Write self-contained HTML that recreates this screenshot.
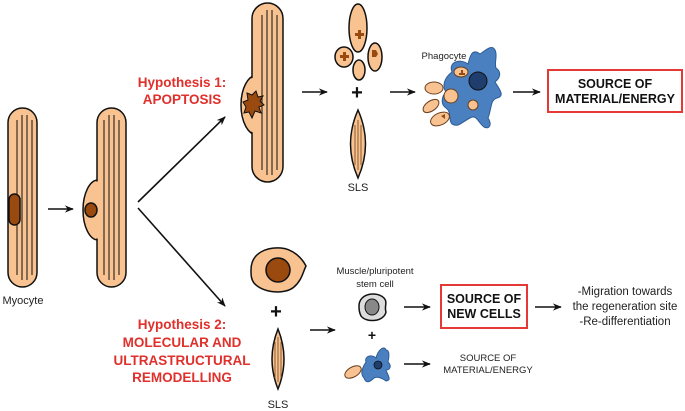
<!DOCTYPE html>
<html><head><meta charset="utf-8"><style>html,body{margin:0;padding:0;background:#fff}svg{display:block}</style></head>
<body>
<svg width="685" height="411" viewBox="0 0 685 411" xmlns="http://www.w3.org/2000/svg" font-family="Liberation Sans, sans-serif">
<defs>
<marker id="ah" viewBox="0 0 10 10" refX="9" refY="5" markerWidth="10" markerHeight="9" orient="auto" markerUnits="userSpaceOnUse">
<path d="M0,1 L10,5 L0,9 L3,5 Z" fill="#111"/></marker>
</defs>
<g stroke="#111" stroke-width="1.5" fill="#f8c391">
<!-- Myocyte 1 -->
<rect x="8" y="108" width="29" height="179" rx="14.5"/>
<g stroke-width="1"><line x1="17" y1="120" x2="17" y2="275"/><line x1="22" y1="115" x2="22" y2="280"/><line x1="27" y1="115" x2="27" y2="280"/><line x1="32" y1="120" x2="32" y2="275"/></g>
<rect x="9" y="194" width="11" height="31" rx="5.5" fill="#9a4a0f"/>
<!-- Myocyte 2 -->
<ellipse cx="98" cy="210" rx="15" ry="30"/>
<rect x="97" y="108" width="29" height="179" rx="14.5"/>
<ellipse cx="98" cy="210" rx="13.8" ry="28.6" stroke="none"/>
<g stroke-width="1"><line x1="104" y1="120" x2="104" y2="275"/><line x1="109" y1="115" x2="109" y2="280"/><line x1="114" y1="115" x2="114" y2="280"/><line x1="119" y1="120" x2="119" y2="275"/></g>
<ellipse cx="91" cy="210" rx="6" ry="7" fill="#9a4a0f"/>
<!-- Cell 3 -->
<ellipse cx="257" cy="105" rx="16" ry="30"/>
<rect x="252" y="3" width="31" height="179" rx="15.5"/>
<ellipse cx="257" cy="105" rx="14.8" ry="28.6" stroke="none"/>
<g stroke-width="1"><line x1="262" y1="15" x2="262" y2="170"/><line x1="267" y1="10" x2="267" y2="175"/><line x1="272" y1="10" x2="272" y2="175"/><line x1="277" y1="15" x2="277" y2="170"/></g>
<path d="M247,93 L252,95 L256,91 L258,97 L263,96 L260,101 L264,105 L259,107 L261,113 L255,111 L252,118 L249,112 L244,113 L246,107 L243,102 L248,100 Z" fill="#9a4a0f" stroke-width="1"/>
<!-- fragments -->
<ellipse cx="358" cy="28" rx="9" ry="24"/>
<ellipse cx="344" cy="57" rx="9" ry="10"/>
<ellipse cx="375" cy="57" rx="7" ry="14"/>
<ellipse cx="359" cy="70" rx="6" ry="10"/>
<!-- SLS top -->
<path d="M358,110 Q373,144 358,178 Q343,144 358,110 Z"/>
<g stroke="#8a5a30" stroke-width="1"><line x1="355" y1="125" x2="355" y2="165"/><line x1="358" y1="120" x2="358" y2="170"/><line x1="361" y1="125" x2="361" y2="165"/></g>
<!-- bottom cell -->
<path d="M251,270 C251,252 268,247 281,248 C293,249 302,258 306,266 C303,272 302,280 294,287 C285,295 262,293 254,283 C251,279 251,275 251,270 Z"/>
<circle cx="278" cy="270" r="12" fill="#9a4a0f"/>
<!-- SLS bottom -->
<path d="M278,329 Q290,359 278,389 Q266,359 278,329 Z"/>
<g stroke="#8a5a30" stroke-width="1"><line x1="275" y1="342" x2="275" y2="378"/><line x1="278" y1="337" x2="278" y2="382"/><line x1="281" y1="342" x2="281" y2="378"/></g>
</g>
<g fill="#9a4a0f"><path d="M355,33 h3 v-3 h3 v3 h3 v3 h-3 v3 h-3 v-3 h-3z"/><path d="M340,55 h3 v-3 h3 v3 h3 v3 h-3 v3 h-3 v-3 h-3z"/><path d="M372,50 h4 l2,4 l-2,3 h-4z"/></g>
<!-- phagocyte -->
<path d="M452,72 C448,62 460,58 468,64 C470,56 472,48 480,54 C486,50 492,44 495,50 C498,56 494,62 496,68 C502,72 500,78 495,82 C500,90 505,96 497,98 C490,100 492,108 488,118 C492,124 490,130 484,127 C478,122 476,114 470,118 C462,122 458,128 452,124 C448,120 452,112 446,108 C440,104 442,96 446,92 C442,86 444,78 452,72 Z" fill="#4a7fc0" stroke="#2d5c95" stroke-width="1"/>
<circle cx="478" cy="81" r="9" fill="#1f3e6e" stroke="#111" stroke-width="1"/>
<g fill="#f8c391" stroke="#6a4020" stroke-width="1">
<ellipse cx="461" cy="72" rx="7" ry="5"/><ellipse cx="434" cy="88" rx="9" ry="6"/><ellipse cx="451" cy="96" rx="7" ry="7"/><ellipse cx="473" cy="105" rx="5" ry="5"/>
<ellipse cx="431" cy="106" rx="9" ry="5" transform="rotate(-35 431 106)"/><ellipse cx="440" cy="119" rx="10" ry="6" transform="rotate(-25 440 119)"/>
</g>
<path d="M459,73 h2 v-3 h2 v3 h2 v2 h-6z M441,116 l4,-2 v5z" fill="#9a4a0f"/>
<!-- stem cell -->
<path d="M359,305 C360,293 377,291 384,298 C388,302 384,307 386,312 C384,322 366,323 361,316 C359,312 359,309 359,305 Z" fill="#ddd" stroke="#111" stroke-width="1.5"/>
<ellipse cx="372" cy="307" rx="7" ry="8" fill="#888" stroke="#111" stroke-width="1"/>
<!-- small phagocyte -->
<path d="M366,362 C364,356 372,354 376,358 C378,350 384,345 386,350 C390,350 389,358 388,362 C392,366 390,370 386,370 C388,376 392,380 386,381 C382,378 378,376 374,378 C370,382 366,384 364,378 C360,374 362,368 366,362 Z" fill="#4a7fc0" stroke="#2d5c95" stroke-width="1"/>
<circle cx="378" cy="365" r="4" fill="#1f3e6e" stroke="#111" stroke-width="0.8"/>
<ellipse cx="353" cy="372" rx="9" ry="5" transform="rotate(-30 353 372)" fill="#f8c391" stroke="#6a4020" stroke-width="1"/>
<!-- arrows -->
<g stroke="#111" stroke-width="1.6" marker-end="url(#ah)">
<line x1="48" y1="209" x2="73" y2="209"/>
<line x1="138" y1="202" x2="225" y2="117"/>
<line x1="138" y1="208" x2="225" y2="306"/>
<line x1="302" y1="92" x2="327" y2="92"/>
<line x1="390" y1="92" x2="415" y2="92"/>
<line x1="513" y1="92" x2="540" y2="92"/>
<line x1="310" y1="330" x2="335" y2="330"/>
<line x1="404" y1="307" x2="430" y2="307"/>
<line x1="535" y1="307" x2="561" y2="307"/>
<line x1="404" y1="364" x2="430" y2="364"/>
</g>
<!-- plus signs -->
<g fill="#111" font-weight="bold" text-anchor="middle">
<text x="357" y="99" font-size="20">+</text>
<text x="276" y="318" font-size="20">+</text>
<text x="372" y="340" font-size="14">+</text>
</g>
<!-- boxes -->
<rect x="548" y="70" width="134" height="42" fill="#fff" stroke="#e53935" stroke-width="2"/>
<rect x="441" y="285" width="86" height="43" fill="#fff" stroke="#e53935" stroke-width="2"/>
<g font-weight="bold" font-size="12.5" fill="#111" text-anchor="middle">
<text x="615" y="88">SOURCE OF</text><text x="615" y="103">MATERIAL/ENERGY</text>
<text x="484" y="303">SOURCE OF</text><text x="484" y="318">NEW CELLS</text>
</g>
<g font-weight="bold" font-size="13.5" fill="#e0302c" text-anchor="middle">
<text x="182" y="87">Hypothesis 1:</text><text x="182" y="104">APOPTOSIS</text>
<text x="182" y="329">Hypothesis 2:</text><text x="182" y="347">MOLECULAR AND</text><text x="182" y="365">ULTRASTRUCTURAL</text><text x="182" y="382">REMODELLING</text>
</g>
<g fill="#222" text-anchor="middle">
<text x="23" y="304" font-size="11">Myocyte</text>
<text x="358" y="191" font-size="11">SLS</text>
<text x="278" y="408" font-size="11">SLS</text>
<text x="444" y="59" font-size="9.5">Phagocyte</text>
<text x="375" y="274" font-size="9.5">Muscle/pluripotent</text>
<text x="375" y="287" font-size="9.5">stem cell</text>
<text x="625" y="295" font-size="11.5">-Migration towards</text>
<text x="625" y="310" font-size="11.5">the regeneration site</text>
<text x="625" y="325" font-size="11.5">-Re-differentiation</text>
<text x="488" y="361" font-size="9.5">SOURCE OF</text>
<text x="488" y="373" font-size="9.5">MATERIAL/ENERGY</text>
</g>
</svg>
</body></html>
